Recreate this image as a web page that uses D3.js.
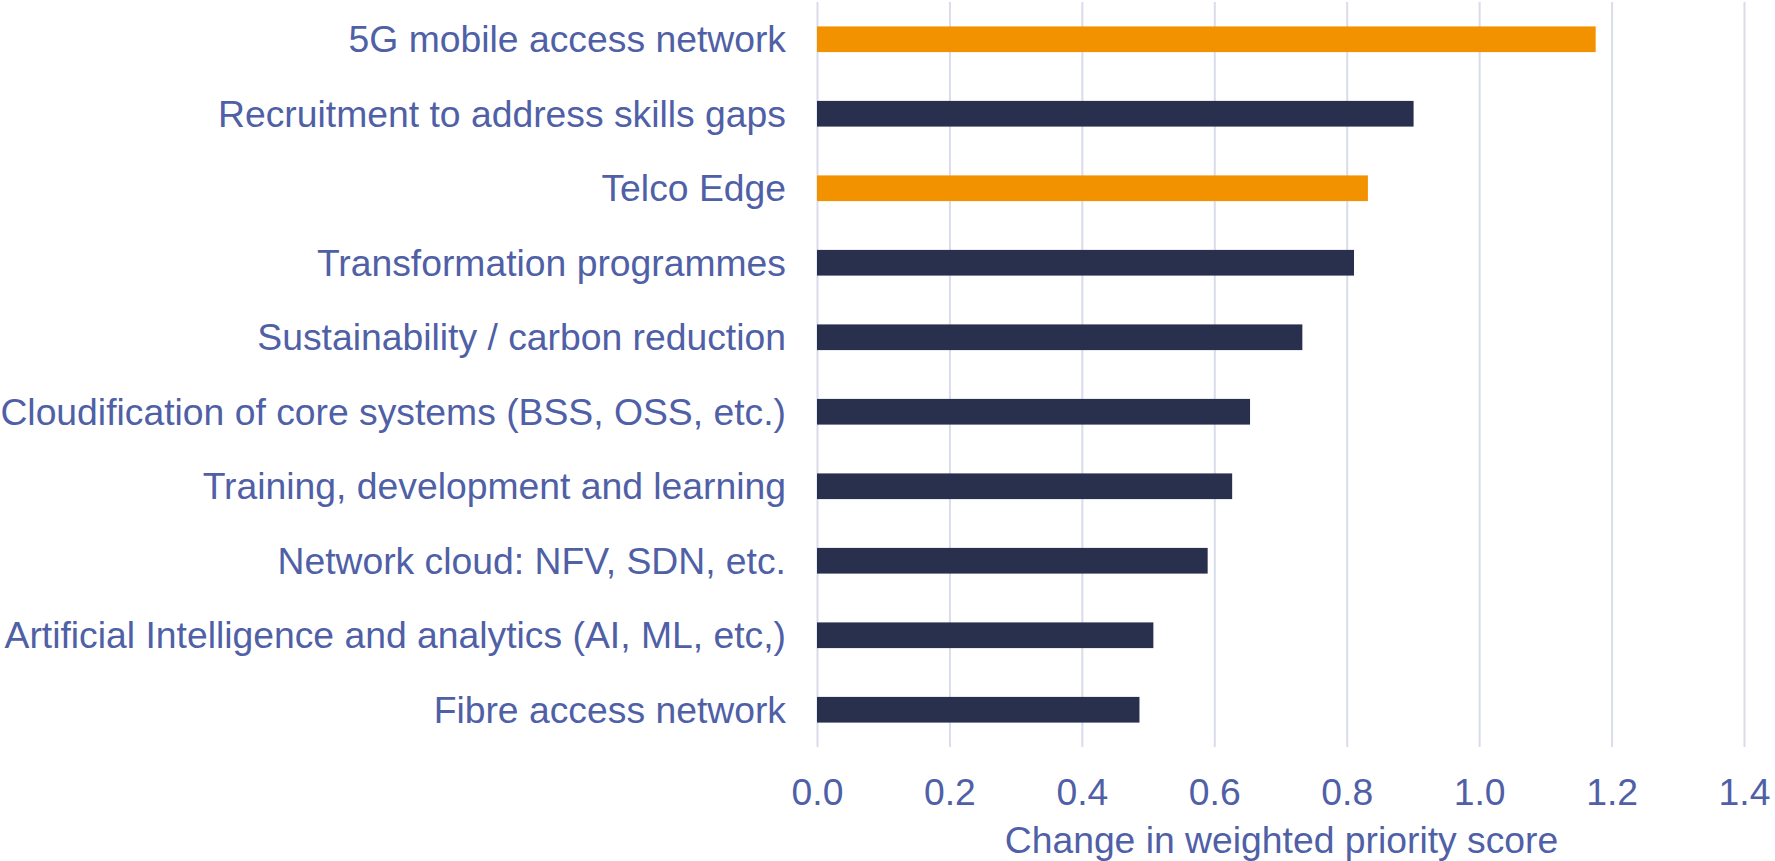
<!DOCTYPE html>
<html>
<head>
<meta charset="utf-8">
<script src="https://cdn.jsdelivr.net/npm/d3@7"></script>
<style>
  html, body { margin: 0; padding: 0; background: #ffffff; }
  svg { display: block; }
  text { font-family: "Liberation Sans", Arial, sans-serif; }
</style>
</head>
<body>
<svg id="chart" width="1775" height="861"></svg>
<script>
const categories = [
  "5G mobile access network",
  "Recruitment to address skills gaps",
  "Telco Edge",
  "Transformation programmes",
  "Sustainability / carbon reduction",
  "Cloudification of core systems (BSS, OSS, etc.)",
  "Training, development and learning",
  "Network cloud: NFV, SDN, etc.",
  "Artificial Intelligence and analytics (AI, ML, etc,)",
  "Fibre access network"
];
const values = [1.176, 0.901, 0.832, 0.811, 0.733, 0.654, 0.627, 0.590, 0.508, 0.487];
const highlighted = ["5G mobile access network", "Telco Edge"];
const xTicks = [0, 0.2, 0.4, 0.6, 0.8, 1.0, 1.2, 1.4];
const xTitle = "Change in weighted priority score";

const textColor = "#4F60A6";
const barColor = "#28304E";
const hiColor = "#F39200";
const gridColor = "#D9DCEA";
const fontSize = 37.3;

const svg = d3.select("#chart");
const plotLeft = 817, plotRight = 1744, plotTop = 2, plotBottom = 747;

const x = d3.scaleLinear().domain([0, 1.4]).range([plotLeft, plotRight]);
const y = d3.scaleBand().domain(categories).range([plotTop, plotBottom])
  .paddingInner(0.655).paddingOuter(0.3275);

// gridlines
const grid = svg.append("g").attr("transform", `translate(0,${plotBottom})`)
  .call(d3.axisBottom(x).tickValues(xTicks).tickSize(-(plotBottom - plotTop)).tickFormat(""));
grid.select(".domain").remove();
grid.selectAll("line").attr("stroke", gridColor).attr("stroke-width", 2);

// bars
svg.append("g").selectAll("rect").data(categories).join("rect")
  .attr("x", x(0))
  .attr("y", d => y(d))
  .attr("width", (d, i) => x(values[i]) - x(0))
  .attr("height", y.bandwidth())
  .attr("fill", d => highlighted.includes(d) ? hiColor : barColor);

// x axis labels
const xa = svg.append("g").attr("transform", `translate(0,${plotBottom})`)
  .call(d3.axisBottom(x).tickValues(xTicks).tickSize(0).tickPadding(31.5).tickFormat(d3.format(".1f")));
xa.select(".domain").remove();
xa.selectAll("text").attr("fill", textColor).style("font-size", fontSize + "px")
  .style("font-family", "'Liberation Sans', Arial, sans-serif");

// y axis labels
const ya = svg.append("g").attr("transform", `translate(${plotLeft},0)`)
  .call(d3.axisLeft(y).tickSize(0).tickPadding(31));
ya.select(".domain").remove();
ya.selectAll("text").attr("fill", textColor).attr("dy", "0.35em").style("font-size", fontSize + "px")
  .style("font-family", "'Liberation Sans', Arial, sans-serif");

// x title
svg.append("text")
  .attr("x", (plotLeft + plotRight) / 2 + 1)
  .attr("y", 853)
  .attr("text-anchor", "middle")
  .attr("fill", textColor)
  .style("font-size", fontSize + "px")
  .text(xTitle);
</script>
</body>
</html>
